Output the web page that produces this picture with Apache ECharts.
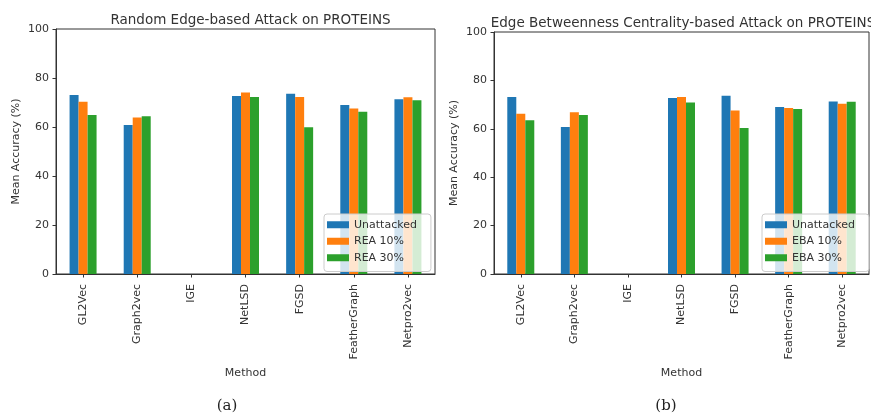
<!DOCTYPE html>
<html>
<head>
<meta charset="utf-8">
<script src="https://cdn.jsdelivr.net/npm/echarts@6/dist/echarts.min.js"></script>
<style>
  html, body { margin: 0; padding: 0; background: #fff; }
  #chart { width: 871px; height: 417px; }
</style>
</head>
<body>
<div id="chart"></div>
<script>
// Methods on the x axis (shared by both panels)
const methods = ['GL2Vec', 'Graph2vec', 'IGE', 'NetLSD', 'FGSD', 'FeatherGraph', 'Netpro2vec'];
const yTicks = [0, 20, 40, 60, 80, 100];

// Panel (a): random edge-based attack
const reaUnattacked = [73.1, 60.8, 0, 72.7, 73.6, 69.0, 71.3];
const rea10 = [70.3, 63.9, 0, 74.1, 72.2, 67.6, 72.1];
const rea30 = [64.9, 64.4, 0, 72.2, 59.9, 66.2, 70.9];

// Panel (b): edge betweenness centrality-based attack
const ebaUnattacked = [73.1, 60.7, 0, 72.7, 73.7, 69.0, 71.3];
const eba10 = [66.2, 66.8, 0, 73.1, 67.6, 68.6, 70.4];
const eba30 = [63.5, 65.7, 0, 70.9, 60.3, 68.2, 71.2];

const seriesNamesA = ['Unattacked', 'REA 10%', 'REA 30%'];
const seriesNamesB = ['Unattacked', 'EBA 10%', 'EBA 30%'];
const colors = ['#1f77b4', '#ff7f0e', '#2ca02c'];

const FONT = 'DejaVu Sans';
const INK = '#333';

function xAxisFor(gridIndex) {
  return {
    type: 'category', gridIndex, data: methods,
    name: 'Method', nameLocation: 'middle', nameGap: 87,
    nameTextStyle: { fontFamily: FONT, fontSize: 11, color: INK },
    axisLine: { show: true, lineStyle: { color: INK, width: 1 } },
    axisTick: { show: true, alignWithLabel: true, length: 3.5, lineStyle: { color: INK } },
    axisLabel: { rotate: 90, margin: 10, fontFamily: FONT, fontSize: 11, color: INK, interval: 0 },
    splitLine: { show: false }
  };
}
function yAxisFor(gridIndex) {
  return {
    type: 'value', gridIndex, min: yTicks[0], max: yTicks[yTicks.length - 1], interval: 20,
    name: 'Mean Accuracy (%)', nameLocation: 'middle', nameGap: 34,
    nameTextStyle: { fontFamily: FONT, fontSize: 11, color: INK },
    axisLine: { show: true, lineStyle: { color: INK, width: 1 } },
    axisTick: { show: true, length: 3.5, lineStyle: { color: INK } },
    axisLabel: { margin: 7, fontFamily: FONT, fontSize: 11, color: INK },
    splitLine: { show: false }
  };
}
function barsFor(names, values, axisIndex) {
  return names.map((n, i) => ({
    name: n, type: 'bar', xAxisIndex: axisIndex, yAxisIndex: axisIndex,
    data: values[i], barWidth: 9, barGap: '0%',
    itemStyle: { color: colors[i] }
  }));
}
function legendFor(names, left, top, rightPad) {
  return {
    data: names, orient: 'vertical', left, top,
    icon: 'rect', itemWidth: 22, itemHeight: 7, itemGap: 3,
    padding: [4, rightPad, 7, 3],
    backgroundColor: 'rgba(255,255,255,0.8)', borderColor: '#ccc', borderWidth: 1, borderRadius: 3,
    textStyle: { fontFamily: FONT, fontSize: 11, color: INK, lineHeight: 13.5 },
    selectedMode: false
  };
}

const chart = echarts.init(document.getElementById('chart'), null, { renderer: 'canvas' });
chart.setOption({
  animation: false,
  backgroundColor: '#fff',
  title: [
    { text: 'Random Edge-based Attack on PROTEINS', left: 245.5, top: 8, textAlign: 'center',
      textStyle: { fontFamily: FONT, fontSize: 13.5, fontWeight: 'normal', color: INK } },
    { text: 'Edge Betweenness Centrality-based Attack on PROTEINS', left: 678, top: 11, textAlign: 'center',
      textStyle: { fontFamily: FONT, fontSize: 13.5, fontWeight: 'normal', color: INK } },
    { text: '(a)', left: 222, top: 394, textAlign: 'center',
      textStyle: { fontFamily: 'DejaVu Serif', fontSize: 15, fontWeight: 'normal', color: '#222' } },
    { text: '(b)', left: 661, top: 394, textAlign: 'center',
      textStyle: { fontFamily: 'DejaVu Serif', fontSize: 15, fontWeight: 'normal', color: '#222' } }
  ],
  grid: [
    { left: 56, right: 436, top: 29, bottom: 143, show: true, borderColor: INK, borderWidth: 1, backgroundColor: 'transparent' },
    { left: 494, right: 2, top: 32, bottom: 143, show: true, borderColor: INK, borderWidth: 1, backgroundColor: 'transparent' }
  ],
  xAxis: [xAxisFor(0), xAxisFor(1)],
  yAxis: [yAxisFor(0), yAxisFor(1)],
  legend: [
    legendFor(seriesNamesA, 324, 214, 14),
    legendFor(seriesNamesB, 762, 214, 14)
  ],
  series: [
    ...barsFor(seriesNamesA, [reaUnattacked, rea10, rea30], 0),
    ...barsFor(seriesNamesB, [ebaUnattacked, eba10, eba30], 1)
  ]
});
</script>
</body>
</html>
